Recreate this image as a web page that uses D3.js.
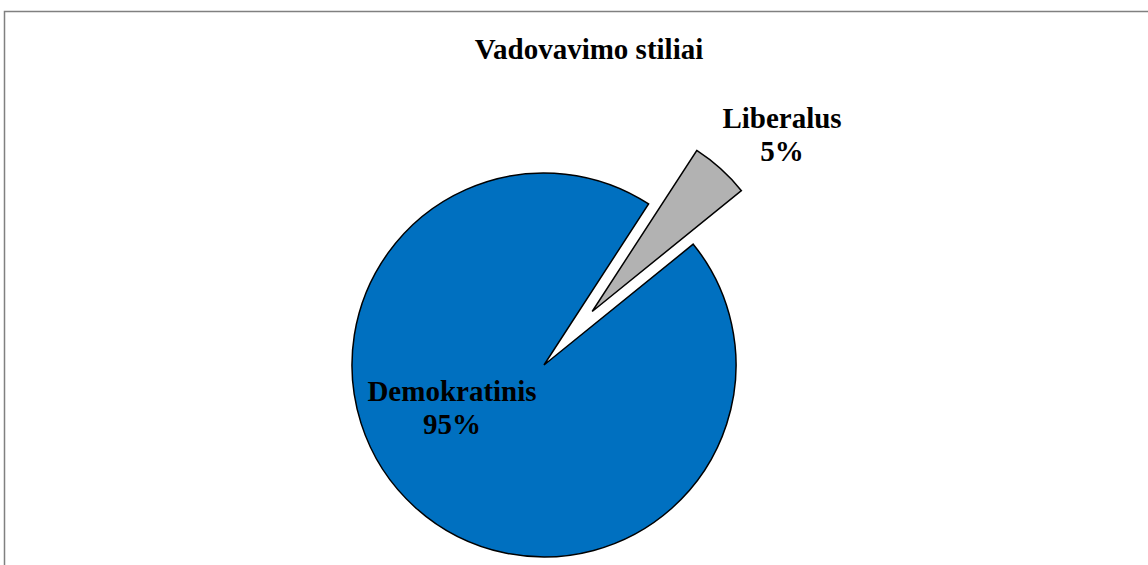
<!DOCTYPE html>
<html>
<head>
<meta charset="utf-8">
<script src="https://cdn.jsdelivr.net/npm/d3@7"></script>
<style>
  html, body { margin: 0; padding: 0; background: #fff; }
  svg { display: block; }
</style>
</head>
<body>
<div id="chart"></div>
<script>
// données
const categories = ["Demokratinis", "Liberalus"];
const values = [95, 5];
const colors = ["#0070C0", "#B2B2B2"];
const explode = [0, 72];

const width = 1148, height = 565;
const cx = 544, cy = 365, radius = 192;
const font = "'Liberation Serif', 'Times New Roman', serif";

// position des étiquettes (décalage depuis le centre du camembert)
const labelOffset = {
    "Demokratinis": [-92, 36],
    "Liberalus": [238, -237]
};

const svg = d3.select("#chart").append("svg")
    .attr("width", width)
    .attr("height", height);

// cadre
svg.append("rect")
    .attr("x", 4.5).attr("y", 11.5)
    .attr("width", width + 20).attr("height", height + 20)
    .attr("fill", "#fff")
    .attr("stroke", "#808080")
    .attr("stroke-width", 1.5);

svg.append("text")
    .attr("x", 589).attr("y", 59)
    .attr("text-anchor", "middle")
    .style("font-family", font)
    .style("font-weight", "bold")
    .style("font-size", "29px")
    .text("Vadovavimo stiliai");

const data = categories.map((c, i) => ({ name: c, value: values[i], color: colors[i], explode: explode[i] }));

const start = 51 * Math.PI / 180;
const pie = d3.pie().sort(null).value(d => d.value)
    .startAngle(start).endAngle(start + 2 * Math.PI);
const arc = d3.arc().innerRadius(0).outerRadius(radius);

const g = svg.append("g").attr("transform", `translate(${cx},${cy})`);

g.selectAll("path")
    .data(pie(data)).join("path")
    .attr("transform", d => {
        const mid = (d.startAngle + d.endAngle) / 2;
        const dx = Math.sin(mid) * d.data.explode;
        const dy = -Math.cos(mid) * d.data.explode;
        return `translate(${dx},${dy})`;
    })
    .attr("d", arc)
    .attr("fill", d => d.data.color)
    .attr("stroke", "#000")
    .attr("stroke-width", 1.5)
    .attr("stroke-linejoin", "miter");

const labels = g.selectAll("text.lbl")
    .data(pie(data)).join("text")
    .attr("class", "lbl")
    .attr("text-anchor", "middle")
    .style("font-family", font)
    .style("font-weight", "bold")
    .style("font-size", "29px");

labels.append("tspan")
    .attr("x", d => labelOffset[d.data.name][0])
    .attr("y", d => labelOffset[d.data.name][1])
    .text(d => d.data.name);

labels.append("tspan")
    .attr("x", d => labelOffset[d.data.name][0])
    .attr("y", d => labelOffset[d.data.name][1] + 33)
    .text(d => d.data.value + "%");
</script>
</body>
</html>
